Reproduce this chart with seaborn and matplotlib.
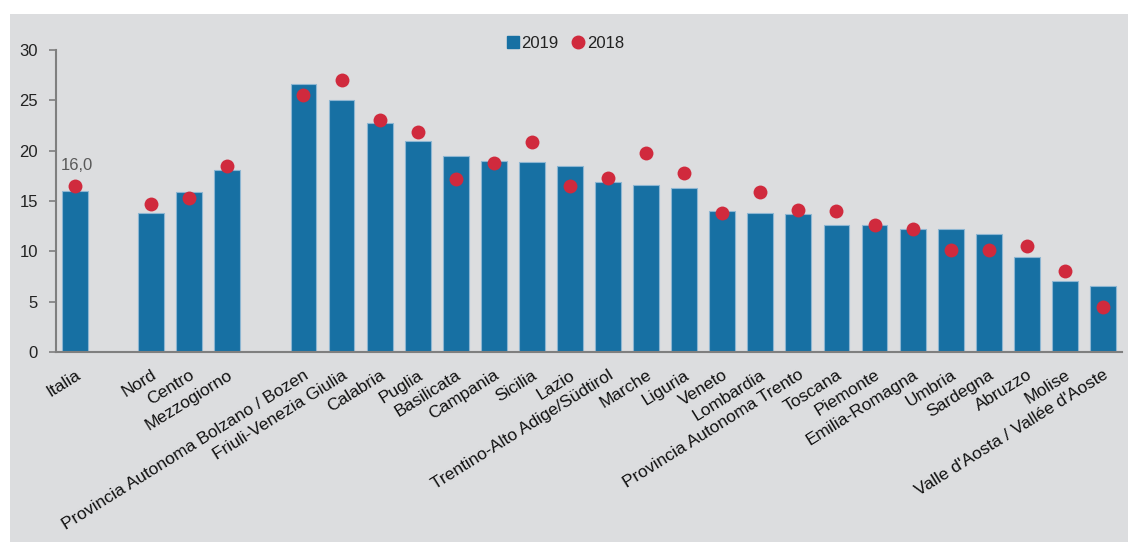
import numpy as np
import pandas as pd
import matplotlib
matplotlib.use("Agg")
import matplotlib.pyplot as plt
from matplotlib.lines import Line2D
from matplotlib.patches import Rectangle
import seaborn as sns

# dati (spazi vuoti = separatori tra gruppi)
regions = ["Italia", "", "Nord", "Centro", "Mezzogiorno", " ",
           "Provincia Autonoma Bolzano / Bozen", "Friuli-Venezia Giulia", "Calabria",
           "Puglia", "Basilicata", "Campania", "Sicilia", "Lazio",
           "Trentino-Alto Adige/Südtirol", "Marche", "Liguria", "Veneto", "Lombardia",
           "Provincia Autonoma Trento", "Toscana", "Piemonte", "Emilia-Romagna",
           "Umbria", "Sardegna", "Abruzzo", "Molise", "Valle d'Aosta / Vallée d'Aoste"]
v2019 = [16.0, np.nan, 13.8, 15.9, 18.1, np.nan,
         26.6, 25.0, 22.7, 21.0, 19.5, 19.0, 18.9, 18.5, 16.9, 16.6, 16.3,
         14.0, 13.8, 13.7, 12.6, 12.6, 12.2, 12.2, 11.7, 9.4, 7.1, 6.6]
v2018 = [16.5, np.nan, 14.7, 15.3, 18.5, np.nan,
         25.5, 27.0, 23.0, 21.9, 17.2, 18.8, 20.9, 16.5, 17.3, 19.8, 17.8,
         13.8, 15.9, 14.1, 14.0, 12.6, 12.2, 10.1, 10.1, 10.5, 8.0, 4.5]
yticks = [0, 5, 10, 15, 20, 25, 30]

blue = "#1770A3"
red = "#D02A3D"
bg = "#DCDDDF"
axis_gray = "#7F7F7F"

df = pd.DataFrame({"region": regions, "2019": v2019, "2018": v2018}).dropna()

sns.set_style("white")
plt.rcParams["font.family"] = ["Liberation Sans", "DejaVu Sans"]

fig = plt.figure(figsize=(11.28, 5.42), dpi=100, facecolor="white")
fig.patches.append(Rectangle((10 / 1128, 0), 1, 1 - 14 / 542, transform=fig.transFigure,
                             facecolor=bg, edgecolor="none", zorder=-10))
ax = fig.add_axes([56 / 1128, 190 / 542, 1066 / 1128, 302 / 542])
ax.set_facecolor("none")

sns.barplot(data=df, x="region", y="2019", order=regions, color=blue, width=0.68,
            edgecolor="#8DB6D2", linewidth=0.8, saturation=1, ax=ax)
sns.stripplot(data=df, x="region", y="2018", order=regions, color=red, jitter=False,
              size=10, linewidth=0, ax=ax, zorder=5)

# etichetta Italia
it = df[df["region"] == "Italia"].iloc[0]
ax.annotate(f"{it['2019']:.1f}".replace(".", ","), (0, it["2019"]),
            xytext=(1, 13), textcoords="offset points", ha="center", va="bottom",
            fontsize=12, color="#595959")

ax.set_xlim(-0.5, len(regions) - 0.5)
ax.set_ylim(0, 30)
ax.set_yticks(yticks)
ax.set_xticks(range(len(regions)))
ax.set_xticklabels(regions, rotation=32, ha="right", va="top", rotation_mode="anchor")
ax.set_xticks(np.arange(-0.5, len(regions)), minor=True)
ax.tick_params(axis="x", which="major", length=0, pad=11, labelsize=12.5, labelcolor="#111111")
ax.tick_params(axis="x", which="minor", length=5, width=1.2, color=axis_gray, direction="out")
ax.tick_params(axis="y", length=5, width=1.2, color=axis_gray, labelsize=12,
               labelcolor="#222222", pad=8, left=True)
ax.set_xlabel("")
ax.set_ylabel("")
for s in ["top", "right"]:
    ax.spines[s].set_visible(False)
for s in ["left", "bottom"]:
    ax.spines[s].set_color(axis_gray)
    ax.spines[s].set_linewidth(1.5)

handles = [Line2D([], [], marker="s", color=blue, linestyle="none", markersize=8),
           Line2D([], [], marker="o", color=red, linestyle="none", markersize=9)]
fig.legend(handles, ["2019", "2018"], loc="center", bbox_to_anchor=(565 / 1128, 1 - 43 / 542),
           ncol=2, frameon=False, fontsize=12, handlelength=0.8, handletextpad=0.1,
           columnspacing=0.8, labelcolor="#222222")

fig.savefig("out.png", dpi=100, facecolor=fig.get_facecolor())
